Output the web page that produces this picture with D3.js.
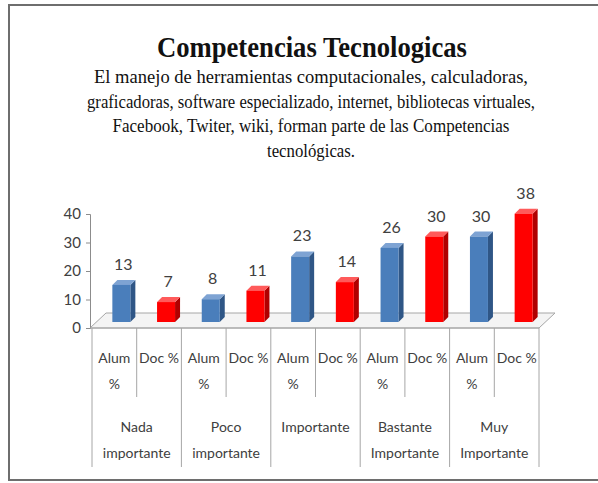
<!DOCTYPE html>
<html>
<head>
    <meta charset="utf-8">
    <title>Competencias Tecnologicas</title>
    <script src="https://cdn.jsdelivr.net/npm/d3@7"></script>
    <style>
        body { margin: 0; background: #fff; }
        #chart text.serif { font-family: "Liberation Serif", "Times New Roman", serif; fill: #111; }
        #chart text.lbl { font-family: Lato, "Open Sans", sans-serif; font-size: 14px; fill: #404040; }
        #chart .tick text { font-family: Lato, "Open Sans", sans-serif; font-size: 15px; fill: #404040; }
    </style>
</head>
<body>
<svg id="chart" width="598" height="483"></svg>
<script>
    // data
    var groupNames = ["Nada importante", "Poco importante", "Importante", "Bastante Importante", "Muy Importante"];
    var groupLines = [["Nada", "importante"], ["Poco", "importante"], ["Importante"], ["Bastante", "Importante"], ["Muy", "Importante"]];
    var seriesNames = ["Alum %", "Doc %"];
    var seriesLines = [["Alum", "%"], ["Doc %"]];
    var alumValues = [13, 8, 23, 26, 30];
    var docValues = [7, 11, 14, 30, 38];
    var yTicks = [0, 10, 20, 30, 40];
    var seriesColors = ["#4a7ebb", "#ff0000"];
    var sideColors = ["#2f5686", "#b00000"];
    var topColors = ["#7ea3d3", "#ff5a5a"];

    var title = "Competencias Tecnologicas";
    var subtitle = [
        "El manejo de herramientas computacionales, calculadoras,",
        "graficadoras, software especializado, internet, bibliotecas virtuales,",
        "Facebook, Twiter, wiki,  forman parte de las Competencias",
        "tecnológicas."
    ];

    var svg = d3.select("#chart");

    //frame
    svg.append("rect")
        .attr("x", 9).attr("y", 5)
        .attr("width", 640).attr("height", 475)
        .attr("fill", "#fff")
        .attr("stroke", "#6e6e6e")
        .attr("stroke-width", 2);

    //title + subtitle
    svg.append("text")
        .attr("class", "serif")
        .attr("x", 312).attr("y", 57)
        .attr("text-anchor", "middle")
        .attr("font-size", 30)
        .attr("font-weight", "bold")
        .attr("textLength", 310)
        .attr("lengthAdjust", "spacingAndGlyphs")
        .text(title);

    var subWidths = [434, 448, 397, 88];
    svg.selectAll("text.sub")
        .data(subtitle)
        .enter()
        .append("text")
        .attr("class", "serif sub")
        .attr("x", 311)
        .attr("y", (d, i) => 83 + i * 24.5)
        .attr("text-anchor", "middle")
        .attr("font-size", 18)
        .attr("textLength", (d, i) => subWidths[i])
        .attr("lengthAdjust", "spacingAndGlyphs")
        .text(d => d);

    // build flat rows
    var rows = [];
    groupNames.forEach(function (g, gi) {
        rows.push({ key: g + "|a", s: 0, value: alumValues[gi] });
        rows.push({ key: g + "|d", s: 1, value: docValues[gi] });
    });

    var x = d3.scaleBand()
        .domain(rows.map(d => d.key))
        .range([92, 539])
        .padding(0);
    var y = d3.scaleLinear()
        .domain([0, 40])
        .range([328, 214]);

    var depth = { dx: 16, dy: -15 };   // floor depth
    var barOff = { dx: 7, dy: -6 };    // bars stand mid floor
    var bd = 5;                        // bar depth
    var barW = 18;

    //floor
    var y0 = y(0);
    svg.append("polygon")
        .attr("points", [[90, y0], [90 + depth.dx, y0 + depth.dy], [539 + depth.dx, y0 + depth.dy], [539, y0]].join(" "))
        .attr("fill", "#f4f4f4")
        .attr("stroke", "#a6a6a6")
        .attr("stroke-width", 1);

    //y axis
    var yAxis = svg.append("g")
        .attr("transform", "translate(90,0)")
        .call(d3.axisLeft(y).tickValues(yTicks).tickSize(4).tickPadding(5));
    yAxis.select(".domain").attr("stroke", "#8c8c8c");
    yAxis.selectAll(".tick line").attr("stroke", "#8c8c8c");

    //bars
    var bars = svg.selectAll("g.bar")
        .data(rows)
        .enter()
        .append("g")
        .attr("class", "bar");

    function barLeft(d) { return x(d.key) + x.bandwidth() / 2 + barOff.dx - barW / 2; }
    function barTop(d) { return y(d.value) + barOff.dy; }
    var barBottom = y0 + barOff.dy;

    bars.append("polygon")
        .attr("points", function (d) {
            var r = barLeft(d) + barW, t = barTop(d);
            return [[r, t], [r + bd, t - bd], [r + bd, barBottom - bd], [r, barBottom]].join(" ");
        })
        .attr("fill", d => sideColors[d.s]);
    bars.append("polygon")
        .attr("points", function (d) {
            var l = barLeft(d), r = l + barW, t = barTop(d);
            return [[l, t], [l + bd, t - bd], [r + bd, t - bd], [r, t]].join(" ");
        })
        .attr("fill", d => topColors[d.s]);
    bars.append("rect")
        .attr("x", d => barLeft(d))
        .attr("y", d => barTop(d))
        .attr("width", barW)
        .attr("height", d => barBottom - barTop(d))
        .attr("fill", d => seriesColors[d.s]);

    //value labels
    bars.append("text")
        .attr("class", "lbl")
        .attr("x", d => barLeft(d) + barW / 2 + 2)
        .attr("y", d => barTop(d) - 15)
        .attr("text-anchor", "middle")
        .style("font-size", "16px")
        .text(d => d.value);

    //x axis line
    svg.append("line")
        .attr("x1", 90).attr("x2", 539)
        .attr("y1", y0).attr("y2", y0)
        .attr("stroke", "#a6a6a6");

    //category separators
    var bounds = rows.map(d => x(d.key)).concat([539]);
    svg.selectAll("line.sep")
        .data(bounds)
        .enter()
        .append("line")
        .attr("class", "sep")
        .attr("x1", d => d).attr("x2", d => d)
        .attr("y1", y0)
        .attr("y2", (d, i) => i % 2 === 0 ? 467 : 397)
        .attr("stroke", "#a6a6a6");

    //series labels
    rows.forEach(function (d) {
        var lines = seriesLines[d.s];
        var t = svg.append("text")
            .attr("class", "lbl")
            .attr("text-anchor", "middle");
        lines.forEach(function (ln, i) {
            t.append("tspan")
                .attr("x", x(d.key) + x.bandwidth() / 2)
                .attr("y", 363 + i * 26)
                .text(ln);
        });
    });

    //group labels
    groupLines.forEach(function (lines, gi) {
        var cx = x(groupNames[gi] + "|a") + x.bandwidth();
        var t = svg.append("text")
            .attr("class", "lbl")
            .attr("text-anchor", "middle");
        lines.forEach(function (ln, i) {
            t.append("tspan")
                .attr("x", cx)
                .attr("y", 432 + i * 26)
                .text(ln);
        });
    });
</script>
</body>
</html>
